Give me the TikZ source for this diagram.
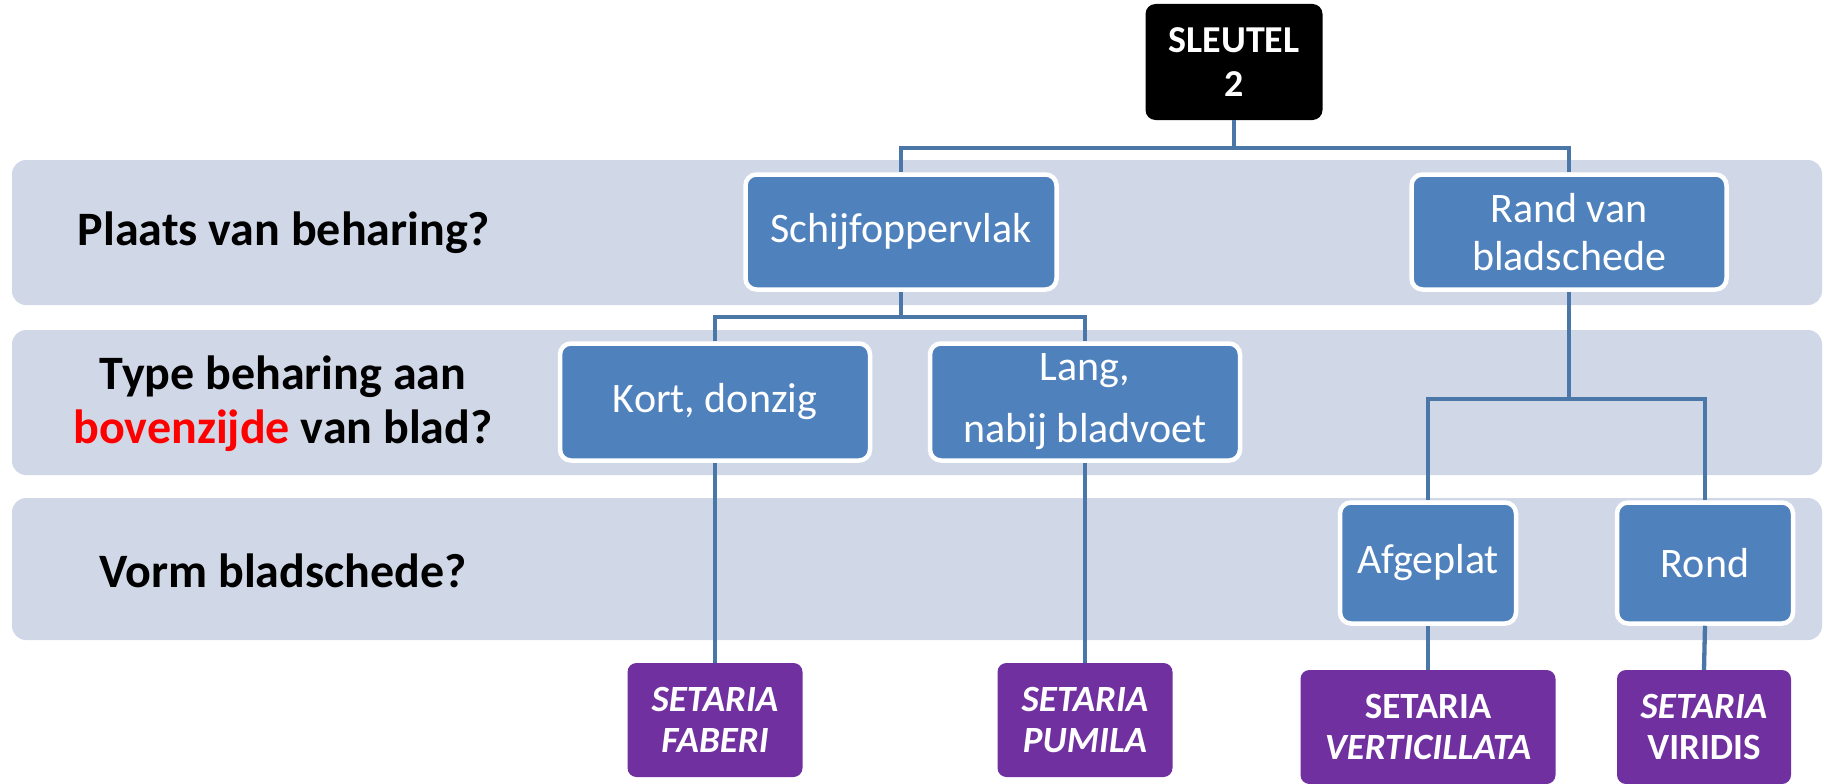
\documentclass[tikz,border=0pt]{standalone}
\usepackage{fontspec}
\setmainfont{Carlito}
\definecolor{band}{HTML}{D0D8E8}
\definecolor{boxblue}{HTML}{4F81BD}
\definecolor{conn}{HTML}{4A76A8}
\definecolor{purp}{HTML}{7030A0}
\begin{document}
\begin{tikzpicture}[x=1pt,y=-1pt,
  bandbox/.style={fill=band, rounded corners=14pt},
  bluebox/.style={draw=white, line width=4.5pt, fill=boxblue, rounded corners=11pt, text=white,
    font=\fontsize{42}{48}\selectfont, align=center, inner sep=0pt},
  keybox/.style={fill=black, rounded corners=10pt, text=white, font=\bfseries\fontsize{38}{44}\selectfont,
    align=center, inner sep=0pt, minimum width=177pt, minimum height=116pt},
  purpbox/.style={fill=purp, rounded corners=9pt, text=white, font=\bfseries\fontsize{37}{41}\selectfont,
    align=center, inner sep=0pt, minimum height=114pt},
  question/.style={font=\bfseries\fontsize{48}{54}\selectfont, align=center},
  link/.style={draw=conn, line width=4.3pt}]
\useasboundingbox (0,0) rectangle (1824,784);

% bands
\fill[bandbox] (12,160) rectangle (1822,305);
\fill[bandbox] (12,330) rectangle (1822,475);
\fill[bandbox] (12,498) rectangle (1822,640);

% questions
\node[question] (q1) at (284,233) {Plaats van beharing?};
\node[question] (q2) at (283,404) {Type beharing aan\\{\color{red}bovenzijde} van blad?};
\node[question] (q3) at (283,571) {Vorm bladschede?};

% key
\node[keybox] (sleutel) at (1234,62) {SLEUTEL\\2};

% blue boxes
\node[bluebox, minimum width=311pt, minimum height=115pt] (schijf) at (901,232) {Schijfoppervlak};
\node[bluebox, minimum width=315pt, minimum height=115pt] (rand) at (1569,232) {Rand van\\bladschede};
\node[bluebox, minimum width=310pt, minimum height=117pt] (kort) at (715,402) {\raisebox{-3pt}{Kort, donzig}};
\node[bluebox, minimum width=310pt, minimum height=117pt, font=\fontsize{42}{64}\selectfont] (lang) at (1085,402) {\raisebox{-2pt}{Lang,}\\nabij bladvoet};
\node[bluebox, minimum width=176pt, minimum height=121pt] (afgeplat) at (1428,563) {Afgeplat};
\node[bluebox, minimum width=176pt, minimum height=121pt] (rond) at (1705,563) {Rond};

% purple result boxes
\node[purpbox, minimum width=175pt] (faberi) at (715,720) {\itshape SETARIA\\\itshape FABERI};
\node[purpbox, minimum width=175pt] (pumila) at (1085,720) {\itshape SETARIA\\\itshape PUMILA};
\node[purpbox, minimum width=255pt] (vert) at (1428,727) {SETARIA\\\itshape VERTICILLATA};
\node[purpbox, minimum width=174pt] (viridis) at (1704,727) {\itshape SETARIA\\VIRIDIS};

% connectors
\draw[link] (sleutel.south) -- ++(0,28) -| (schijf.north);
\draw[link] (sleutel.south) -- ++(0,28) -| (rand.north);
\draw[link] (schijf.south) -- ++(0,25) -| (kort.north);
\draw[link] (schijf.south) -- ++(0,25) -| (lang.north);
\draw[link] (rand.south) -- ++(0,107) -| (afgeplat.north);
\draw[link] (rand.south) -- ++(0,107) -| (rond.north);
\draw[link] (kort.south) -- (faberi.north);
\draw[link] (lang.south) -- (pumila.north);
\draw[link] (afgeplat.south) -- (vert.north);
\draw[link] (rond.south) -- (viridis.north);
\end{tikzpicture}
\end{document}
